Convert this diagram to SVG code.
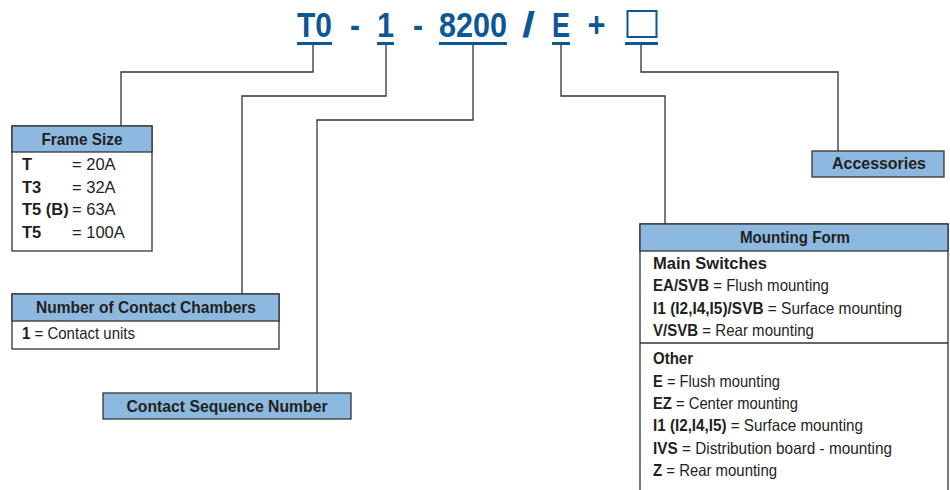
<svg xmlns="http://www.w3.org/2000/svg" width="950" height="490" viewBox="0 0 950 490">
<style>
text{font-family:"Liberation Sans",Arial,sans-serif;fill:#231f20}
.t{font-size:35px;font-weight:bold;fill:#0c5796;text-anchor:middle}
.h{font-size:16.5px;font-weight:bold;text-anchor:middle}
.b{font-size:16.5px}
.k{font-weight:bold}
.hd{fill:#8db9e0;stroke:#333;stroke-width:1.3}
.bx{fill:#fff;stroke:#333;stroke-width:1.3}
.ul{fill:#0c5796}
.cn{fill:none;stroke:#333;stroke-width:1.3}
</style>
<g id="code">
<text class="t" x="314.5" y="37" textLength="35" lengthAdjust="spacingAndGlyphs">T0</text>
<text class="t" x="355" y="37" textLength="10" lengthAdjust="spacingAndGlyphs">-</text>
<text class="t" x="385.5" y="37" textLength="17" lengthAdjust="spacingAndGlyphs">1</text>
<text class="t" x="418" y="37" textLength="10" lengthAdjust="spacingAndGlyphs">-</text>
<text class="t" x="473" y="37" textLength="68" lengthAdjust="spacingAndGlyphs">8200</text>
<text class="t" x="528.5" y="37" textLength="13" lengthAdjust="spacingAndGlyphs">/</text>
<text class="t" x="561" y="37" textLength="18" lengthAdjust="spacingAndGlyphs">E</text>
<text class="t" x="596.5" y="37" textLength="18" lengthAdjust="spacingAndGlyphs">+</text>
<rect x="627.5" y="11" width="29" height="26" fill="none" stroke="#0c5796" stroke-width="2"/>
<rect class="ul" x="297" y="42" width="35" height="3"/>
<rect class="ul" x="377" y="42" width="17" height="3"/>
<rect class="ul" x="439" y="42" width="68" height="3"/>
<rect class="ul" x="552" y="42" width="18" height="3"/>
<rect class="ul" x="625" y="42" width="33" height="3"/>
</g>
<g id="connectors">
<polyline class="cn" points="313,45 313,72 121,72 121,126"/>
<polyline class="cn" points="386,45 386,96 242,96 242,294"/>
<polyline class="cn" points="473,45 473,120 317,120 317,393"/>
<polyline class="cn" points="561,45 561,96 665,96 665,224"/>
<polyline class="cn" points="641,45 641,72 838,72 838,151"/>
</g>
<g id="frame-size">
<rect class="bx" x="12" y="126" width="140" height="125"/>
<rect class="hd" x="12" y="126" width="140" height="26"/>
<text class="h" x="82" y="145" textLength="81" lengthAdjust="spacingAndGlyphs">Frame Size</text>
<text class="b" y="170"><tspan class="k" x="22">T</tspan><tspan x="72">= 20A</tspan></text>
<text class="b" y="193"><tspan class="k" x="22">T3</tspan><tspan x="72">= 32A</tspan></text>
<text class="b" y="215"><tspan class="k" x="22">T5 (B)</tspan><tspan x="72">= 63A</tspan></text>
<text class="b" y="238"><tspan class="k" x="22">T5</tspan><tspan x="72">= 100A</tspan></text>
</g>
<g id="contact-chambers">
<rect class="bx" x="12" y="294" width="267" height="55"/>
<rect class="hd" x="12" y="294" width="267" height="27"/>
<text class="h" x="146" y="313" textLength="220" lengthAdjust="spacingAndGlyphs">Number of Contact Chambers</text>
<text class="b" x="22" y="339" textLength="113" lengthAdjust="spacingAndGlyphs"><tspan class="k">1</tspan> = Contact units</text>
</g>
<g id="contact-sequence">
<rect class="hd" x="103" y="393" width="248" height="26"/>
<text class="h" x="227" y="412" textLength="201" lengthAdjust="spacingAndGlyphs">Contact Sequence Number</text>
</g>
<g id="accessories">
<rect class="hd" x="812" y="151" width="132" height="26"/>
<text class="h" x="879" y="169" textLength="94" lengthAdjust="spacingAndGlyphs">Accessories</text>
</g>
<g id="mounting-form">
<rect class="bx" x="640" y="224" width="308" height="280"/>
<rect class="hd" x="640" y="224" width="308" height="27"/>
<line x1="640" y1="343" x2="948" y2="343" stroke="#333" stroke-width="1.3"/>
<text class="h" x="795" y="243" textLength="110" lengthAdjust="spacingAndGlyphs">Mounting Form</text>
<text class="b k" x="653" y="269" textLength="114" lengthAdjust="spacingAndGlyphs">Main Switches</text>
<text class="b" x="653" y="291" textLength="176" lengthAdjust="spacingAndGlyphs"><tspan class="k">EA/SVB</tspan> = Flush mounting</text>
<text class="b" x="653" y="314" textLength="249" lengthAdjust="spacingAndGlyphs"><tspan class="k">I1 (I2,I4,I5)/SVB</tspan> = Surface mounting</text>
<text class="b" x="653" y="336" textLength="161" lengthAdjust="spacingAndGlyphs"><tspan class="k">V/SVB</tspan> = Rear mounting</text>
<text class="b k" x="653" y="364" textLength="40" lengthAdjust="spacingAndGlyphs">Other</text>
<text class="b" x="653" y="387" textLength="127" lengthAdjust="spacingAndGlyphs"><tspan class="k">E</tspan> = Flush mounting</text>
<text class="b" x="653" y="409" textLength="145" lengthAdjust="spacingAndGlyphs"><tspan class="k">EZ</tspan> = Center mounting</text>
<text class="b" x="653" y="431" textLength="210" lengthAdjust="spacingAndGlyphs"><tspan class="k">I1 (I2,I4,I5)</tspan> = Surface mounting</text>
<text class="b" x="653" y="454" textLength="239" lengthAdjust="spacingAndGlyphs"><tspan class="k">IVS</tspan> = Distribution board - mounting</text>
<text class="b" x="653" y="476" textLength="124" lengthAdjust="spacingAndGlyphs"><tspan class="k">Z</tspan> = Rear mounting</text>
</g>
</svg>
